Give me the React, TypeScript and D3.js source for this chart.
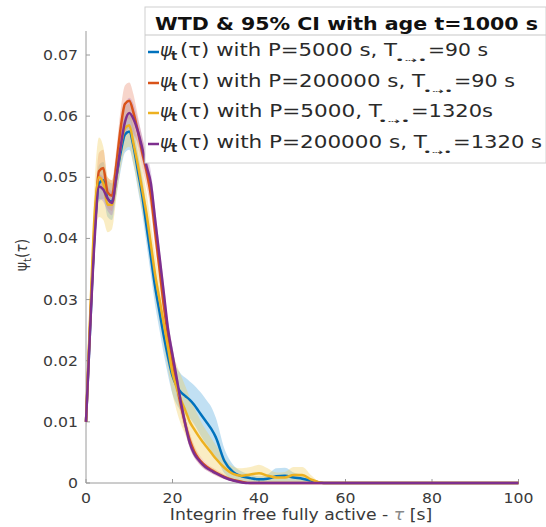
import React from "react";
import * as d3 from "d3";

const tau = [0,1,2,3,4,5,6,7,8,9,10,11,12,13,14,15,16,17,18,19,20,21,22,23,24,25,26,27,28,29,30,32,34,36,38,40,42,44,46,48,50,52,54,56,100];

const blueV = [0.010,0.026,0.041,0.049,0.0495,0.0465,0.046,0.050,0.054,0.057,0.0575,
  0.055,0.051,0.047,0.042,0.037,0.032,0.028,0.024,0.0205,0.0175,
  0.0158,0.0148,0.0142,0.0136,0.0128,0.0118,0.0108,0.0098,0.0088,0.0075,
  0.0036,0.0018,0.0011,0.0008,0.0006,0.0007,0.0011,0.0012,0.0009,0.0007,0.0004,0.0001,0,
  0];
const blueCI = [0.001,0.002,0.0025,0.003,0.003,0.003,0.003,0.003,0.003,0.003,0.003,
  0.003,0.003,0.003,0.003,0.003,0.003,0.003,0.003,0.003,0.003,
  0.003,0.003,0.003,0.003,0.0032,0.0034,0.0036,0.0036,0.0036,0.0032,
  0.002,0.0012,0.0008,0.0006,0.0005,0.0007,0.0013,0.0013,0.0008,0.0006,0.0003,0.0001,0,
  0];

const redV = [0.010,0.027,0.042,0.051,0.0515,0.0475,0.047,0.052,0.058,0.062,0.0625,
  0.0605,0.0575,0.054,0.051,0.047,0.041,0.035,0.029,0.024,0.020,
  0.016,0.0125,0.0095,0.007,0.0052,0.004,0.0032,0.0026,0.0021,0.0017,
  0.001,0.0005,0.0002,0,0,0,0,0,0,0,0,0,0,
  0];
const redCI = [0.001,0.002,0.0025,0.003,0.003,0.0025,0.0025,0.0025,0.003,0.003,0.003,
  0.003,0.0025,0.0025,0.0025,0.0025,0.0025,0.002,0.002,0.002,0.002,
  0.0018,0.0016,0.0014,0.0012,0.001,0.0008,0.0007,0.0006,0.0005,0.0005,
  0.0004,0.0002,0.0001,0,0,0,0,0,0,0,0,0,0,
  0];

const yellowV = [0.010,0.028,0.044,0.050,0.049,0.0455,0.0455,0.050,0.055,0.058,0.0585,
  0.0555,0.052,0.048,0.044,0.039,0.034,0.030,0.026,0.022,0.018,
  0.0155,0.0135,0.0118,0.010,0.0088,0.0077,0.0067,0.0058,0.0049,0.004,
  0.0025,0.0015,0.0012,0.0014,0.0016,0.0012,0.0009,0.0009,0.0013,0.0013,0.0006,0.0001,0,
  0];
const yellowCI = [0.001,0.003,0.005,0.0065,0.006,0.0045,0.004,0.0035,0.0035,0.0035,0.0035,
  0.0035,0.0035,0.0035,0.0035,0.0035,0.0035,0.0035,0.0035,0.0035,0.0035,
  0.0038,0.004,0.004,0.004,0.0036,0.0032,0.0028,0.0026,0.0024,0.0022,
  0.0016,0.0012,0.0012,0.0012,0.0014,0.0012,0.0008,0.0009,0.0013,0.0013,0.0007,0.0001,0,
  0];

const purpleV = [0.010,0.026,0.040,0.0485,0.048,0.0465,0.0458,0.050,0.055,0.059,0.0605,
  0.0595,0.0575,0.0548,0.0518,0.049,0.043,0.037,0.031,0.025,0.021,
  0.017,0.013,0.0095,0.0065,0.0048,0.0038,0.003,0.0024,0.002,0.0016,
  0.0009,0.0004,0.0001,0,0,0,0,0,0,0,0,0,0,
  0];
const purpleCI = [0.001,0.0015,0.002,0.002,0.002,0.002,0.002,0.002,0.002,0.0025,0.0025,
  0.0025,0.002,0.002,0.002,0.002,0.0018,0.0016,0.0015,0.0014,0.0013,
  0.0012,0.001,0.0009,0.0008,0.0006,0.0005,0.0005,0.0004,0.0004,0.0003,
  0.0002,0.0001,0,0,0,0,0,0,0,0,0,0,0,
  0];

const xTicks = [0, 20, 40, 60, 80, 100];
const yTicks = [0, 0.01, 0.02, 0.03, 0.04, 0.05, 0.06, 0.07];

const legendTitle = "WTD & 95% CI with age t=1000 s";
const legendP = ["(τ) with P=5000 s, T", "(τ) with P=200000 s, T", "(τ) with P=5000, T", "(τ) with P=200000 s, T"];
const legendT = ["=90 s", "=90 s", "=1320s", "=1320 s"];

const series = [
  { v: blueV, ci: blueCI, color: "#0072BD", band: "#4DA6DE" },
  { v: redV, ci: redCI, color: "#D95319", band: "#E8866A" },
  { v: yellowV, ci: yellowCI, color: "#EDB120", band: "#F2CC55" },
  { v: purpleV, ci: purpleCI, color: "#7E2F8E", band: "#B07BC0" },
];

// layout (pixel geometry)
const X0 = 86, X1 = 518.5, Y0 = 483, YTOP = 31;
const FONT = "DejaVu Sans";
const SX = 1.12;

// legend segment pixel extents
const segPStart = 180;
const segPEnd = [397, 425, 382, 427];
const segSub = [[395, 427], [423, 453], [378, 410], [423, 452]];
const segTEnd = [488, 515, 493, 542];
const rowBase = [56, 87, 117, 148];

export default function App() {
  const x = d3.scaleLinear().domain([0, 100]).range([X0, X1]);
  const y = d3.scaleLinear().domain([0, 0.07]).range([Y0, 55]);

  const line = (vals: number[]) =>
    d3.line<number>().x((_, i) => x(tau[i])).y((d) => y(d)).curve(d3.curveMonotoneX)(vals) || "";
  const area = (vals: number[], ci: number[]) =>
    d3.area<number>()
      .x((_, i) => x(tau[i]))
      .y0((d, i) => y(Math.max(0, d - ci[i])))
      .y1((d, i) => y(d + ci[i]))
      .curve(d3.curveMonotoneX)(vals) || "";

  const tickColor = "#3a3a3a";
  const axisColor = "#9a9a9a";

  return (
    <div style={{ position: "absolute", left: 0, top: 0 }}>
      <svg width={546} height={527} style={{ display: "block", background: "#fff" }} fontFamily={FONT}>
        <rect x={0} y={0} width={546} height={527} fill="#fff" />
        {/* bands */}
        {series.map((s, i) => (
          <path key={"b" + i} d={area(s.v, s.ci)} fill={s.band} fillOpacity={0.35} stroke="none" />
        ))}
        {/* axes */}
        <line x1={X0} x2={X0} y1={Y0} y2={YTOP} stroke={axisColor} strokeWidth={1} />
        <line x1={X0} x2={X1} y1={Y0} y2={Y0} stroke={axisColor} strokeWidth={1} />
        {yTicks.map((t) => (
          <g key={"yt" + t}>
            <line x1={X0} x2={X0 + 4} y1={y(t)} y2={y(t)} stroke={axisColor} />
            <text transform={`translate(${78},${y(t) + 5}) scale(${SX},1)`} textAnchor="end" fontSize={14} fill={tickColor}>
              {t === 0 ? "0" : t.toFixed(2)}
            </text>
          </g>
        ))}
        {xTicks.map((t) => (
          <g key={"xt" + t}>
            <line x1={x(t)} x2={x(t)} y1={Y0} y2={Y0 - 4} stroke={axisColor} />
            <text transform={`translate(${x(t)},${503}) scale(${SX},1)`} textAnchor="middle" fontSize={14} fill={tickColor}>
              {String(t)}
            </text>
          </g>
        ))}
        {/* lines */}
        {series.map((s, i) => (
          <path key={"l" + i} d={line(s.v)} fill="none" stroke={s.color} strokeWidth={2.5} strokeLinejoin="round" />
        ))}
        {/* axis labels */}
        <text transform={`translate(${301},${520}) scale(1.15,1)`} textAnchor="middle" fontSize={15} fill={tickColor}>
          Integrin free fully active - <tspan fontStyle="italic" fill="#888">τ</tspan> [s]
        </text>
        <text transform={`translate(${27},${255}) rotate(-90) scale(1,${SX})`} textAnchor="middle" fontSize={14} fill={tickColor}>
          ψ<tspan fontSize={10} dy={4}>t</tspan><tspan dy={-4}>(</tspan><tspan fontStyle="italic">τ</tspan>)
        </text>
        {/* legend */}
        <rect x={145} y={7} width={401} height={156} fill="#fff" stroke="#d0d0d0" strokeWidth={1} />
        <line x1={145} x2={546} y1={35} y2={35} stroke="#c8c8c8" strokeWidth={1.2} />
        <text x={155} y={30} fontSize={18} fontWeight="bold" fill="#111" textLength={383} lengthAdjust="spacingAndGlyphs">
          {legendTitle}
        </text>
        {series.map((s, i) => {
          const b = rowBase[i];
          return (
            <g key={"lg" + i} fill="#2a2a2a">
              <line x1={148} x2={159} y1={b - 4} y2={b - 4} stroke={s.color} strokeWidth={2.5} />
              <text x={160} y={b} fontSize={18} fontStyle="italic">ψ</text>
              <text x={171} y={b + 4} fontSize={13} fontWeight="bold">t</text>
              <text x={segPStart} y={b} fontSize={18} textLength={segPEnd[i] - segPStart} lengthAdjust="spacingAndGlyphs">
                {legendP[i]}
              </text>
              <text x={segSub[i][0]} y={b + 7} fontSize={9} textLength={segSub[i][1] - segSub[i][0]} lengthAdjust="spacingAndGlyphs">
                •⇢•
              </text>
              <text x={segSub[i][1] + 1} y={b} fontSize={18} textLength={segTEnd[i] - segSub[i][1] - 1} lengthAdjust="spacingAndGlyphs">
                {legendT[i]}
              </text>
            </g>
          );
        })}
      </svg>
    </div>
  );
}
